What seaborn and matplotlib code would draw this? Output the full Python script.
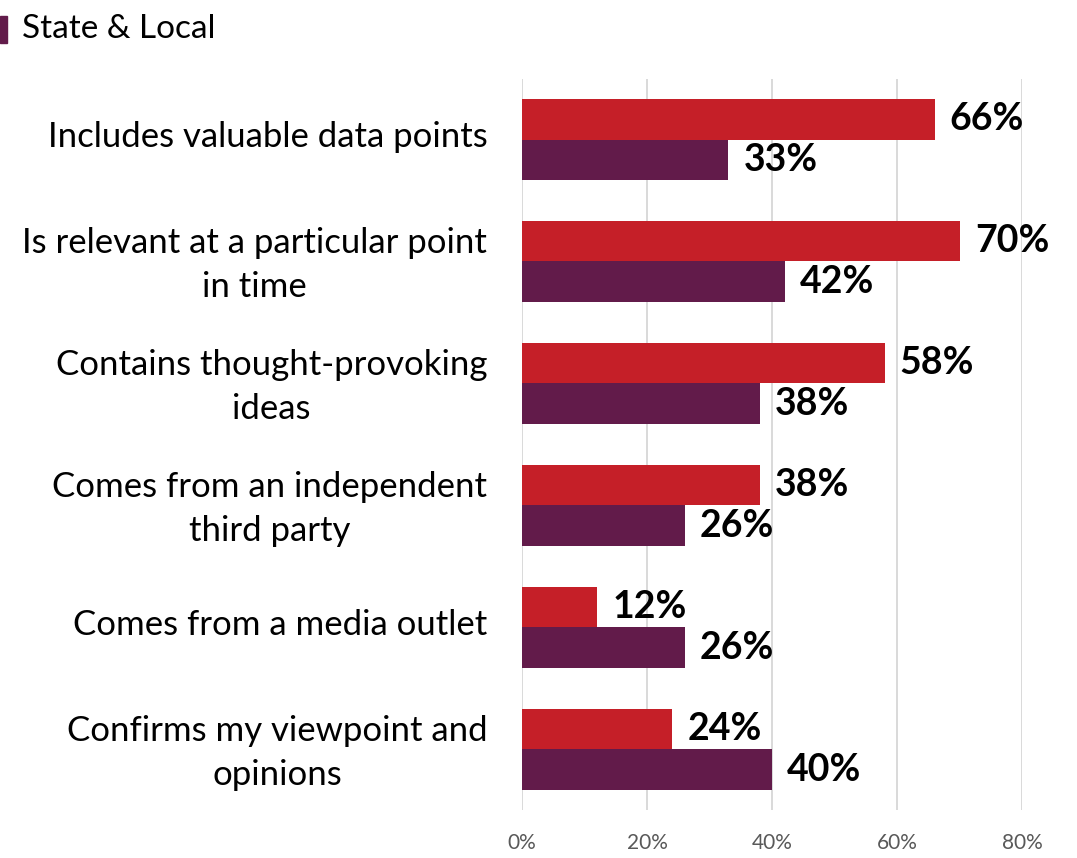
import matplotlib
matplotlib.use("Agg")
import matplotlib.pyplot as plt
from matplotlib.patches import Rectangle
from matplotlib.ticker import FuncFormatter
from matplotlib.transforms import ScaledTranslation
import seaborn as sns
import pandas as pd

# Survey attributes and the share of respondents choosing each one
categories = [
    "Includes valuable data points",
    "Is relevant at a particular point\nin time",
    "Contains thought-provoking\nideas",
    "Comes from an independent\nthird party",
    "Comes from a media outlet",
    "Confirms my viewpoint and\nopinions",
]
series_names = ["Federal", "State & Local"]
federal = [66, 70, 58, 38, 12, 24]
state_local = [33, 42, 38, 26, 26, 40]
x_ticks = [0, 20, 40, 60, 80]

colors = {"Federal": "#C51F28", "State & Local": "#621B4A"}

df = pd.DataFrame({
    "attribute": categories * 2,
    "group": [series_names[0]] * len(categories) + [series_names[1]] * len(categories),
    "pct": federal + state_local,
})

sns.set_theme(style="white")
plt.rcParams["font.family"] = ["Lato", "DejaVu Sans"]

fig = plt.figure(figsize=(10.77, 8.58), dpi=100)
ax = fig.add_axes([0.4847, 0.0554, 0.4643, 0.8531])

sns.barplot(
    data=df, y="attribute", x="pct", hue="group", order=categories,
    hue_order=series_names, palette=colors, saturation=1, orient="h",
    width=0.664, linewidth=0, legend=False, ax=ax,
)

ax.set_xlim(0, 80)
ax.set_ylim(len(categories) - 0.5, -0.5)
ax.set_xticks(x_ticks)
ax.xaxis.set_major_formatter(FuncFormatter(lambda v, _: f"{v:.0f}%"))
ax.grid(axis="x", color="#D9D9D9", linewidth=1.4)
ax.grid(axis="y", visible=False)
ax.set_axisbelow(True)
for s in ax.spines.values():
    s.set_visible(False)
ax.set_xlabel("")
ax.set_ylabel("")
ax.tick_params(axis="x", length=0, pad=16, labelsize=15, labelcolor="#595959")
ax.tick_params(axis="y", length=0, pad=25, labelsize=25, labelcolor="#000000")
lift = ScaledTranslation(0, 4 / 72, fig.dpi_scale_trans)
for lbl in ax.get_yticklabels():
    lbl.set_multialignment("center")
    lbl.set_linespacing(1.45)
    lbl.set_transform(lbl.get_transform() + lift)

# Value labels at the end of each bar
for container in ax.containers:
    ax.bar_label(container, labels=[f"{v:.0f}%" for v in container.datavalues],
                 padding=11, fontsize=27, fontweight="bold", color="#000000")

# Legend entry for the State & Local series
fig.patches.append(Rectangle((0, 1 - 43 / 858), 7 / 1077, 27 / 858,
                             transform=fig.transFigure, color=colors["State & Local"]))
fig.text(22 / 1077, 1 - 29 / 858, "State & Local", fontsize=24,
         va="center", ha="left", color="#000000")

fig.savefig("out.png", dpi=100)
